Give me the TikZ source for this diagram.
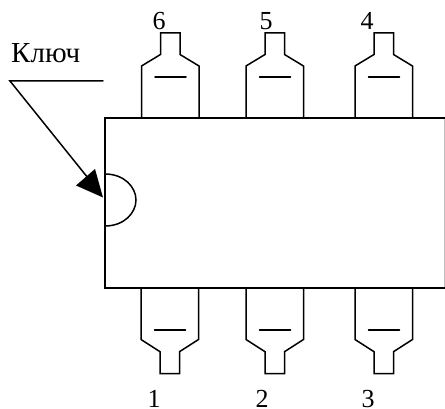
\documentclass[tikz,border=0pt]{standalone}
\usepackage{fontspec}
\setmainfont{Liberation Serif}
\tikzset{
  ln/.style={draw=black,line width=1.5pt,line cap=round,line join=miter},
  lbl/.style={inner sep=0pt,font=\fontsize{26}{26}\selectfont,text=black},
  keylbl/.style={inner sep=0pt,font=\fontsize{29}{29}\selectfont,text=black}
}
\newcommand{\toppin}[1]{
  \draw[ln] (#1-57.5,118)--(#1-57.5,66)--(#1-38.5,54.5)--(#1-38.5,33)--(#1-19,33)--(#1-19,54.5)--(#1,66)--(#1,118);
  \draw[ln] (#1-44,77)--(#1-13,77);
}
\newcommand{\botpin}[1]{
  \draw[ln] (#1-57.5,288)--(#1-57.5,339.5)--(#1-38.5,351.7)--(#1-38.5,373.7)--(#1-19,373.7)--(#1-19,351.7)--(#1,339.5)--(#1,288);
  \draw[ln] (#1-44,330)--(#1-13,330);
}
\begin{document}
\begin{tikzpicture}[x=1pt,y=-1pt]
\useasboundingbox (0,0) rectangle (445,409);
\fill[white] (0,0) rectangle (445,409);
\draw[black!25,line width=0.8pt] (444.5,118)--(444.5,288);
\draw[ln] (445,118)--(105,118)--(105,288)--(445,288);
\toppin{199} \toppin{303.5} \toppin{412.5}
\botpin{198.5} \botpin{303.5} \botpin{412.5}
\coordinate (keyA) at (105,174);
\coordinate (keyB) at (105,226);
\draw[ln] (keyA) .. controls (124,174) and (136,187) .. (136,200) .. controls (136,213) and (124,226) .. (keyB);
\coordinate (ls) at (10,81);
\coordinate (le) at (103,81);
\coordinate (tip) at (103,197.5);
\coordinate (tipA) at (76,185.5);
\coordinate (tipB) at (95,169);
\coordinate (neck) at (88,178);
\draw[ln] (le)--(ls)--(neck);
\fill[black] (tip)--(tipA)--(tipB)--cycle;
\node[keylbl,anchor=base west] (key) at (11,63) {Ключ};
\node[lbl,anchor=base] (n6) at (159,29.5) {6};
\node[lbl,anchor=base] (n5) at (266,29.5) {5};
\node[lbl,anchor=base] (n4) at (367,29.5) {4};
\node[lbl,anchor=base] (n1) at (154,407.5) {1};
\node[lbl,anchor=base] (n2) at (262,407.5) {2};
\node[lbl,anchor=base] (n3) at (368,407.5) {3};
\end{tikzpicture}
\end{document}
